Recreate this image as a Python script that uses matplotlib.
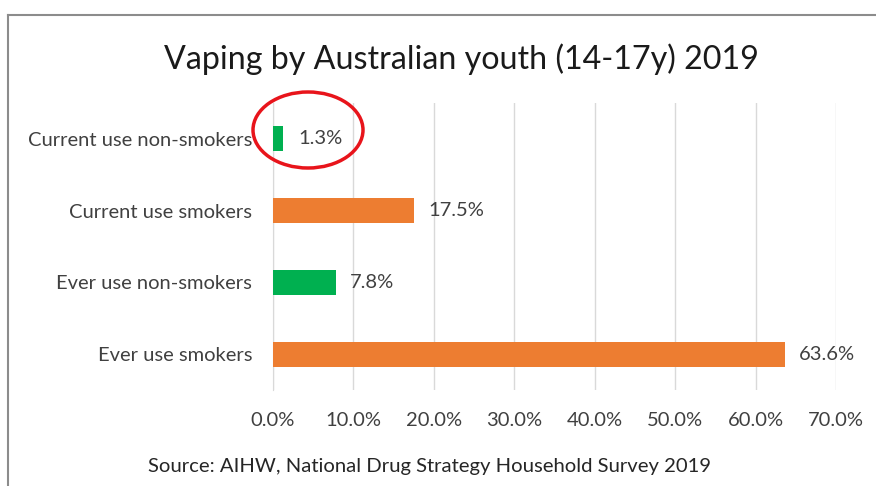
import matplotlib
matplotlib.use("Agg")
import matplotlib.pyplot as plt
from matplotlib.lines import Line2D
from matplotlib.patches import Ellipse
from matplotlib.ticker import FuncFormatter

plt.rcParams['font.family'] = ['Lato', 'DejaVu Sans']

# Vaping prevalence, AIHW NDSHS 2019 (per cent)
categories = ['Ever use smokers', 'Ever use non-smokers',
              'Current use smokers', 'Current use non-smokers']
values = [63.6, 7.8, 17.5, 1.3]
bar_colors = ['#ED7D31', '#00B050', '#ED7D31', '#00B050']
x_ticks = [0, 10, 20, 30, 40, 50, 60, 70]

TEXT = '#404040'
GRID = '#D9D9D9'

W, H = 876, 486
fig = plt.figure(figsize=(W / 100, H / 100), dpi=100)
ax = fig.add_axes([273 / W, 1 - 390 / H, 563 / W, 287 / H])

ypos = range(len(categories))
ax.barh(ypos, values, height=0.35, color=bar_colors, zorder=3)
for y, v in zip(ypos, values):
    ax.text(v + 1.8, y, f'{v:.1f}%', va='center', ha='left',
            fontsize=14.5, color=TEXT)

ax.set_xlim(0, 70)
ax.set_ylim(-0.5, 3.5)
ax.set_xticks(x_ticks)
ax.xaxis.set_major_formatter(FuncFormatter(lambda v, _: f'{v:.1f}%'))
ax.set_yticks(list(ypos))
ax.set_yticklabels(categories)
ax.tick_params(axis='both', length=0, labelsize=14.5, labelcolor=TEXT)
ax.tick_params(axis='x', pad=16)
ax.tick_params(axis='y', pad=15)
ax.grid(axis='x', color=GRID, lw=1, zorder=0)
for s in ['top', 'right', 'bottom']:
    ax.spines[s].set_visible(False)
ax.spines['left'].set_color(GRID)

fig.text(461 / W, 1 - 59 / H, 'Vaping by Australian youth (14-17y) 2019',
         ha='center', va='center', fontsize=23.2, color='#1a1a1a')
fig.text(429 / W, 1 - 466 / H,
         'Source: AIHW, National Drug Strategy Household Survey 2019',
         ha='center', va='center', fontsize=14.6, color='#262626')

# chart frame (bottom and right edges fall outside the image)
fig.add_artist(Line2D([8 / W, 8 / W], [-0.1, 1 - 15 / H], color='#8c8c8c', lw=1.5))
fig.add_artist(Line2D([8 / W, 1.1], [1 - 15 / H, 1 - 15 / H], color='#8c8c8c', lw=1.5))

# highlight around the smallest value
fig.add_artist(Ellipse((308 / W, 1 - 130 / H), 110 / W, 76 / H,
                       transform=fig.transFigure, fill=False,
                       edgecolor='#E8141B', lw=2.5))

fig.savefig('out.png', dpi=100)
